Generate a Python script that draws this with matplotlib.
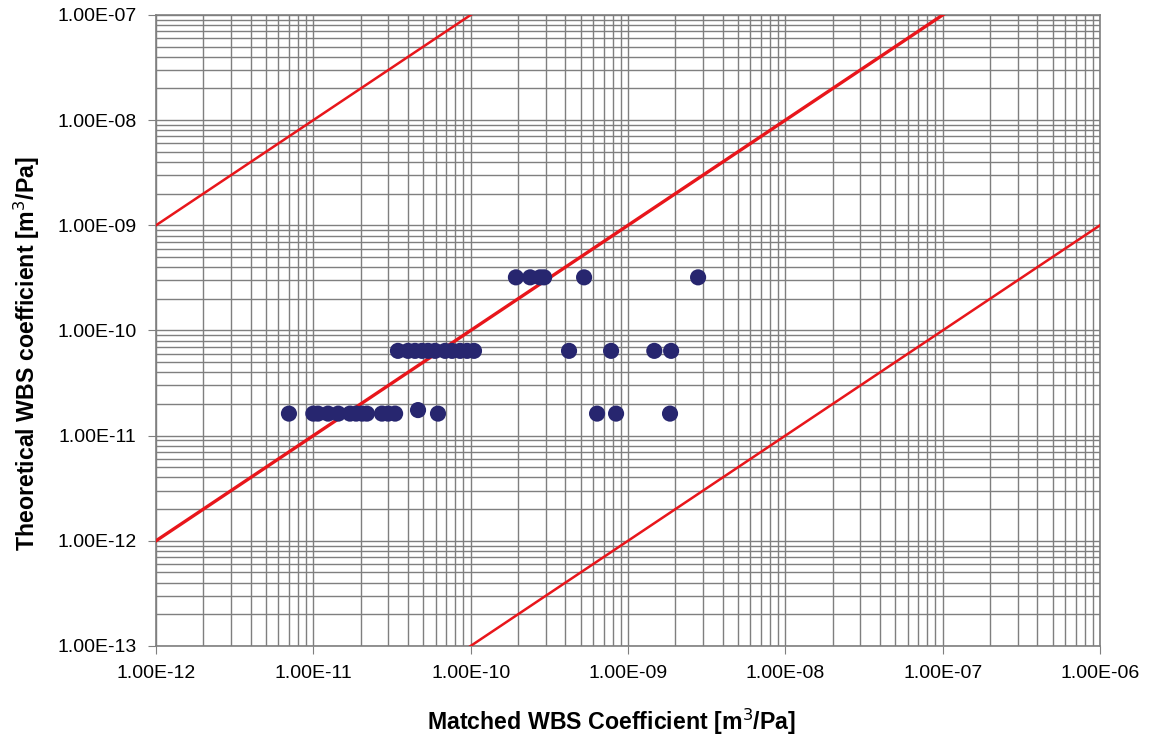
import numpy as np
import matplotlib.pyplot as plt
from matplotlib.ticker import FixedLocator, FuncFormatter, NullFormatter

plt.rcParams['font.family'] = ['Liberation Sans', 'DejaVu Sans']

# matched vs theoretical WBS coefficients, grouped by theoretical level
matched_low = [7.0e-12, 1.0e-11, 1.07e-11, 1.24e-11, 1.44e-11, 1.71e-11, 1.87e-11,
               2.04e-11, 2.19e-11, 2.73e-11, 2.99e-11, 3.31e-11, 4.63e-11, 6.2e-11,
               6.36e-10, 8.4e-10, 1.85e-9]
theory_low = [1.62e-11] * 12 + [1.75e-11] + [1.62e-11] * 4

matched_mid = [3.45e-11, 4.0e-11, 4.43e-11, 4.91e-11, 5.36e-11, 5.94e-11, 6.88e-11,
               7.62e-11, 8.57e-11, 9.49e-11, 1.05e-10, 4.22e-10, 7.81e-10, 1.47e-9, 1.88e-9]
theory_mid = [6.4e-11] * len(matched_mid)

matched_high = [1.94e-10, 2.39e-10, 2.76e-10, 2.93e-10, 5.26e-10, 2.79e-9]
theory_high = [3.2e-10] * len(matched_high)

# reference lines: 1:1 and factor 1000 either side
line_x = [1e-12, 1e-6]
line_factors = [1e3, 1.0, 1e-3]

x_decades = [10.0 ** e for e in range(-12, -5)]
y_decades = [10.0 ** e for e in range(-13, -6)]

fig = plt.figure(figsize=(11.58, 7.38), dpi=100)
ax = fig.add_axes([0.1347, 0.1247, 0.8152, 0.855])

ax.set_xscale('log')
ax.set_yscale('log')
ax.set_xlim(1e-12, 1e-6)
ax.set_ylim(1e-13, 1e-7)

ax.xaxis.set_major_locator(FixedLocator(x_decades))
ax.yaxis.set_major_locator(FixedLocator(y_decades))
ax.xaxis.set_minor_locator(FixedLocator([d * k for d in x_decades[:-1] for k in range(2, 10)]))
ax.yaxis.set_minor_locator(FixedLocator([d * k for d in y_decades[:-1] for k in range(2, 10)]))
fmt = FuncFormatter(lambda v, p: '%.2E' % v)
ax.xaxis.set_major_formatter(fmt)
ax.yaxis.set_major_formatter(fmt)
ax.xaxis.set_minor_formatter(NullFormatter())
ax.yaxis.set_minor_formatter(NullFormatter())

ax.grid(True, which='both', color='#7f7f7f', linewidth=1.0)
ax.set_axisbelow(True)
for s in ax.spines.values():
    s.set_color('#7f7f7f')
    s.set_linewidth(1.2)
ax.tick_params(which='major', direction='out', length=6, color='#7f7f7f',
               labelsize=14, pad=8)
ax.tick_params(which='minor', length=0)

for f in line_factors:
    lw = 2.4 if f == 1.0 else 1.8
    ax.plot(line_x, [v * f for v in line_x], color='#e8161b', linewidth=lw, zorder=3)

for mx, ty in [(matched_low, theory_low), (matched_mid, theory_mid), (matched_high, theory_high)]:
    ax.scatter(mx, ty, s=135, color='#27266f', edgecolors='none', zorder=4)

ax.set_xlabel('Matched WBS Coefficient [m$^3$/Pa]', fontsize=16.7, fontweight='bold')
ax.set_ylabel('Theoretical WBS coefficient [m$^3$/Pa]', fontsize=16.7, fontweight='bold')
ax.xaxis.set_label_coords(0.483, -0.097)
ax.yaxis.set_label_coords(-0.121, 0.464)

fig.savefig('out.png', dpi=100)
